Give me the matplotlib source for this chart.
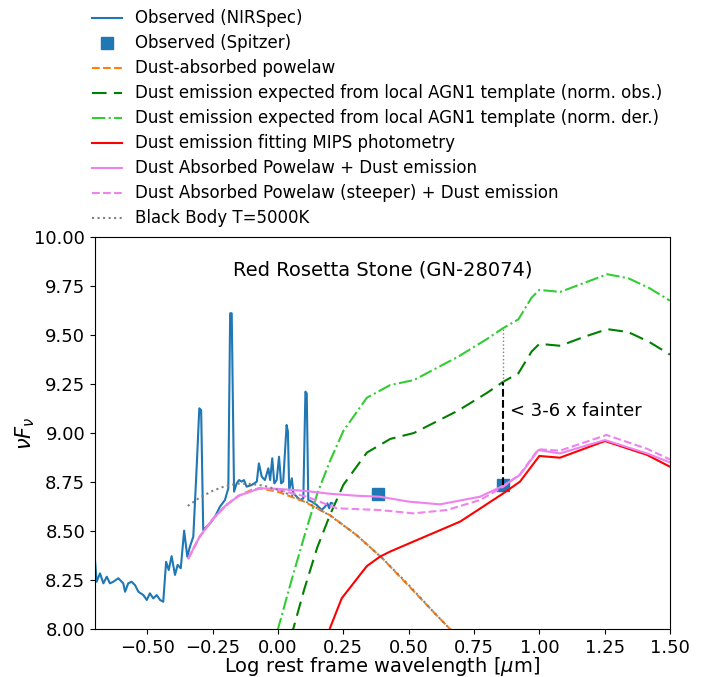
import matplotlib
matplotlib.use("Agg")
import matplotlib.pyplot as plt

# observed NIRSpec spectrum (log wavelength, log nuFnu)
spec_x = [-0.700, -0.694, -0.681, -0.668, -0.655, -0.643, -0.630, -0.611, -0.592, -0.585,
          -0.573, -0.560, -0.547, -0.534, -0.515, -0.502, -0.490, -0.477, -0.464, -0.451,
          -0.439, -0.428, -0.418, -0.407, -0.394, -0.384, -0.372, -0.359, -0.347, -0.337,
          -0.324, -0.311, -0.301, -0.294, -0.286, -0.273, -0.260, -0.241, -0.222, -0.203,
          -0.190, -0.183, -0.177, -0.168, -0.158, -0.149, -0.139, -0.130, -0.120, -0.100,
          -0.081, -0.073, -0.062, -0.050, -0.037, -0.030, -0.022, -0.014, -0.005, 0.004,
          0.012, 0.020, 0.033, 0.038, 0.043, 0.053, 0.059, 0.072, 0.084, 0.097,
          0.105, 0.110, 0.116, 0.129, 0.148, 0.167, 0.180, 0.189, 0.196, 0.202, 0.208]
spec_y = [8.352, 8.241, 8.284, 8.233, 8.267, 8.233, 8.241, 8.259, 8.233, 8.190,
          8.233, 8.241, 8.224, 8.190, 8.173, 8.148, 8.182, 8.156, 8.173, 8.148,
          8.139, 8.343, 8.301, 8.372, 8.276, 8.327, 8.310, 8.502, 8.369, 8.420,
          8.471, 8.828, 9.126, 9.117, 8.505, 8.522, 8.539, 8.573, 8.624, 8.658,
          8.718, 9.611, 9.611, 8.701, 8.743, 8.760, 8.752, 8.760, 8.726, 8.735,
          8.752, 8.845, 8.777, 8.760, 8.820, 8.760, 8.871, 8.743, 8.760, 8.879,
          8.743, 8.752, 9.041, 9.007, 8.709, 8.769, 8.692, 8.675, 8.658, 8.667,
          9.211, 9.202, 8.658, 8.650, 8.633, 8.607, 8.624, 8.641, 8.616, 8.644, 8.641]

# Spitzer photometry
spitzer_x = [0.383, 0.862]
spitzer_y = [8.689, 8.735]

# dust-absorbed power law
pl_x = [-0.343, -0.30, -0.25, -0.20, -0.15, -0.10, -0.07, 0.00, 0.10, 0.20, 0.30, 0.40, 0.50, 0.60, 0.68]
pl_y = [8.36, 8.47, 8.56, 8.63, 8.68, 8.71, 8.718, 8.70, 8.65, 8.58, 8.48, 8.36, 8.22, 8.08, 7.97]

# black body T=5000K
bb_x = [-0.345, -0.30, -0.25, -0.20, -0.15, -0.10, -0.05, 0.00, 0.10, 0.20, 0.30, 0.40, 0.50, 0.60, 0.68]
bb_y = [8.628, 8.67, 8.705, 8.73, 8.742, 8.74, 8.73, 8.71, 8.655, 8.578, 8.48, 8.36, 8.225, 8.08, 7.97]

# AGN1 template (norm. der.) and (norm. obs.)
der_x = [-0.02, 0.00, 0.05, 0.10, 0.15, 0.20, 0.25, 0.34, 0.43, 0.52, 0.69, 0.80, 0.86, 0.92,
         0.97, 1.00, 1.08, 1.17, 1.26, 1.34, 1.42, 1.50]
der_y = [7.88, 8.00, 8.24, 8.47, 8.69, 8.86, 9.01, 9.18, 9.245, 9.27, 9.39, 9.48, 9.534, 9.58,
         9.69, 9.73, 9.72, 9.765, 9.81, 9.79, 9.74, 9.675]
obs_x = [0.05, 0.10, 0.15, 0.20, 0.25, 0.34, 0.43, 0.52, 0.69, 0.80, 0.86, 0.92,
         0.97, 1.00, 1.08, 1.17, 1.26, 1.34, 1.42, 1.50]
obs_y = [7.96, 8.20, 8.415, 8.585, 8.735, 8.90, 8.97, 9.00, 9.115, 9.205, 9.26, 9.305,
         9.415, 9.455, 9.445, 9.49, 9.53, 9.515, 9.465, 9.40]

# dust emission fitting MIPS
mips_x = [0.199, 0.244, 0.340, 0.390, 0.429, 0.518, 0.697, 0.862, 0.926, 1.000, 1.079, 1.251, 1.411, 1.494, 1.50]
mips_y = [8.005, 8.157, 8.321, 8.369, 8.395, 8.446, 8.548, 8.692, 8.752, 8.883, 8.874, 8.959, 8.889, 8.832, 8.828]

# power law + dust emission
tot_x = [-0.343, -0.30, -0.25, -0.20, -0.15, -0.07, 0.00, 0.10, 0.20, 0.30, 0.390, 0.50, 0.620,
         0.773, 0.862, 0.926, 0.996, 1.079, 1.251, 1.411, 1.50]
tot_y = [8.36, 8.47, 8.56, 8.63, 8.68, 8.718, 8.715, 8.705, 8.69, 8.68, 8.675, 8.65, 8.636,
         8.675, 8.731, 8.786, 8.913, 8.896, 8.964, 8.896, 8.85]
steep_x = [-0.343, -0.30, -0.25, -0.20, -0.15, -0.07, 0.00, 0.110, 0.225, 0.390, 0.518, 0.646,
           0.773, 0.862, 0.926, 0.996, 1.079, 1.257, 1.411, 1.50]
steep_y = [8.36, 8.47, 8.56, 8.63, 8.68, 8.718, 8.71, 8.675, 8.616, 8.607, 8.590, 8.607,
           8.658, 8.726, 8.79, 8.917, 8.91, 8.99, 8.92, 8.865]

fig = plt.figure(figsize=(7.07, 6.77), dpi=100)
ax = fig.add_axes([0.1344, 0.0709, 0.8133, 0.579])

ax.plot(spec_x, spec_y, color='C0', lw=1.5, label='Observed (NIRSpec)')
ax.plot(spitzer_x, spitzer_y, 's', color='C0', ms=9, ls='none', label='Observed (Spitzer)')
ax.plot(pl_x, pl_y, '--', color='C1', lw=1.5, label='Dust-absorbed powelaw')
ax.plot(obs_x, obs_y, color='green', lw=1.5, ls=(0, (7, 3.5)),
        label='Dust emission expected from local AGN1 template (norm. obs.)')
ax.plot(der_x, der_y, '-.', color='limegreen', lw=1.5,
        label='Dust emission expected from local AGN1 template (norm. der.)')
ax.plot(mips_x, mips_y, color='red', lw=1.5, label='Dust emission fitting MIPS photometry')
ax.plot(tot_x, tot_y, color='violet', lw=1.5, label='Dust Absorbed Powelaw + Dust emission')
ax.plot(steep_x, steep_y, '--', color='violet', lw=1.5,
        label='Dust Absorbed Powelaw (steeper) + Dust emission')
ax.plot(bb_x, bb_y, ':', color='gray', lw=1.5, label='Black Body T=5000K')

# fainter annotation
ax.plot([spitzer_x[1], spitzer_x[1]], [spitzer_y[1], 9.26], 'k--', lw=1.5)
ax.plot([spitzer_x[1], spitzer_x[1]], [9.26, 9.534], ':', color='gray', lw=1)
ax.text(0.888, 9.112, '< 3-6 x fainter', fontsize=13, va='center')

ax.text(0.5, 0.916, 'Red Rosetta Stone (GN-28074)', transform=ax.transAxes,
        ha='center', va='center', fontsize=14)

ax.set_xlim(-0.7, 1.5)
ax.set_ylim(8.0, 10.0)
ax.set_xticks([-0.5, -0.25, 0.0, 0.25, 0.5, 0.75, 1.0, 1.25, 1.5])
ax.set_yticks([8.0, 8.25, 8.5, 8.75, 9.0, 9.25, 9.5, 9.75, 10.0])
ax.tick_params(labelsize=13)
ax.set_xlabel(r'Log rest frame wavelength [$\mu$m]', fontsize=14, labelpad=-1)
ax.set_ylabel(r'$\nu F_\nu$', fontsize=15, labelpad=-2)

handles, labels = ax.get_legend_handles_labels()
fig.legend(handles, labels, loc='upper left', bbox_to_anchor=(0.12, 0.996),
           frameon=False, fontsize=12, borderaxespad=0, handlelength=1.8,
           labelspacing=0.42)

fig.savefig('out.png', dpi=100)
